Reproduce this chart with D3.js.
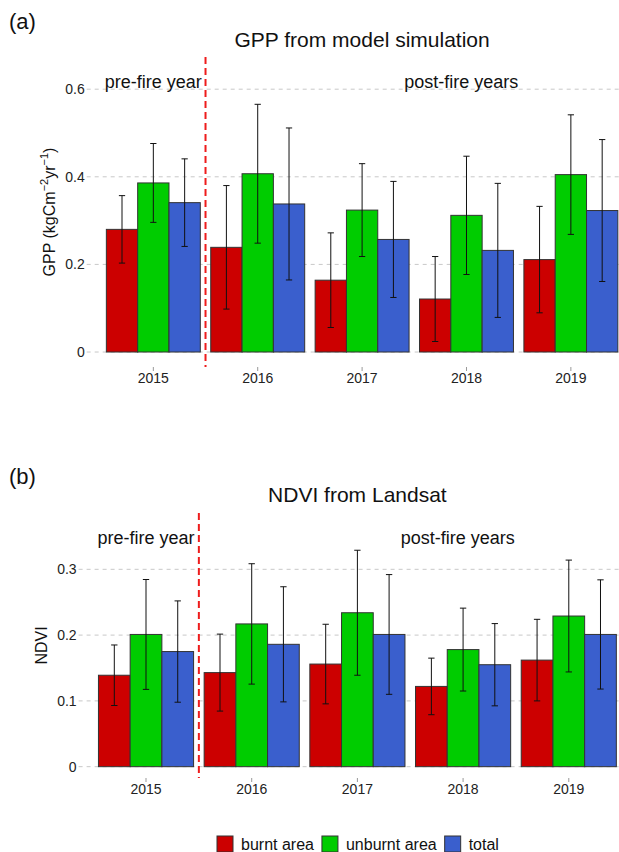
<!DOCTYPE html>
<meta charset="utf-8">
<style>
  body { margin: 0; background: #fff; }
  svg { display: block; font-family: "Liberation Sans", Arial, sans-serif; }
  .grid line { stroke: #c8c8c8; stroke-width: 1px; stroke-dasharray: 4,4; }
  .tick-label { font-size: 14px; fill: #222; }
  .bar { stroke: #333; stroke-width: 1px; }
  .err { stroke: #111; stroke-width: 1px; fill: none; }
  .fireline { stroke: #ee1c1c; stroke-width: 2px; stroke-dasharray: 7,4; }
</style>
<body>
  <script src="https://cdn.jsdelivr.net/npm/d3@7"></script>
  <script>

    var years = ["2015", "2016", "2017", "2018", "2019"];
    var seriesNames = ["burnt area", "unburnt area", "total"];
    var seriesColors = ["#cc0000", "#00cc00", "#3a5fcd"];

    // GPP (kgC m-2 yr-1), mean and sd
    var gppBurnt = [0.280, 0.239, 0.164, 0.121, 0.211];
    var gppBurntSd = [0.077, 0.141, 0.108, 0.097, 0.1215];
    var gppUnburnt = [0.386, 0.407, 0.324, 0.312, 0.405];
    var gppUnburntSd = [0.090, 0.1585, 0.106, 0.135, 0.1365];
    var gppTotal = [0.341, 0.338, 0.257, 0.232, 0.323];
    var gppTotalSd = [0.100, 0.1735, 0.1325, 0.153, 0.162];
    var gppTicks = [0, 0.2, 0.4, 0.6];
    var gppTickLabels = ["0", "0.2", "0.4", "0.6"];

    // NDVI, mean and sd
    var ndviBurnt = [0.139, 0.143, 0.156, 0.122, 0.162];
    var ndviBurntSd = [0.046, 0.0585, 0.0605, 0.043, 0.062];
    var ndviUnburnt = [0.201, 0.217, 0.234, 0.178, 0.229];
    var ndviUnburntSd = [0.0835, 0.0915, 0.095, 0.063, 0.085];
    var ndviTotal = [0.175, 0.186, 0.201, 0.155, 0.201];
    var ndviTotalSd = [0.077, 0.0875, 0.091, 0.0625, 0.083];
    var ndviTicks = [0, 0.1, 0.2, 0.3];
    var ndviTickLabels = ["0", "0.1", "0.2", "0.3"];

    var svg = d3.select("body").append("svg")
      .attr("width", 619)
      .attr("height", 852);

    function drawPanel(p) {
      var x = d3.scaleBand().domain(years)
        .range([p.left, p.right])
        .paddingInner(0.1).paddingOuter(0.15);
      var xs = d3.scaleBand().domain(seriesNames).range([0, x.bandwidth()]);
      var y = d3.scaleLinear().domain(p.yDomain).range([p.bottom, p.top]);

      var g = svg.append("g");

      // letter + title
      g.append("text").attr("x", 9).attr("y", p.letterY)
        .style("font-size", "22px").style("fill", "#111").text(p.letter);
      g.append("text").attr("x", (p.left + p.right) / 2).attr("y", p.titleY)
        .attr("text-anchor", "middle")
        .style("font-size", "21px").style("fill", "#111").text(p.title);

      // grid + y ticks
      var grid = g.append("g").attr("class", "grid");
      grid.selectAll("line").data(p.ticks).enter().append("line")
        .attr("x1", p.left - 4).attr("x2", 619)
        .attr("y1", d => y(d)).attr("y2", d => y(d));
      g.selectAll(".ylab").data(p.ticks).enter().append("text")
        .attr("class", "tick-label")
        .attr("x", p.left - 6).attr("y", d => y(d))
        .attr("dy", "0.35em").attr("text-anchor", "end")
        .text((d, i) => p.tickLabels[i]);

      // x ticks
      years.forEach(yr => {
        var cx = x(yr) + x.bandwidth() / 2;
        g.append("line").attr("x1", cx).attr("x2", cx)
          .attr("y1", p.bottom).attr("y2", p.bottom + 4)
          .style("stroke", "#999");
        g.append("text").attr("class", "tick-label")
          .attr("x", cx).attr("y", p.bottom + 16)
          .attr("text-anchor", "middle").text(yr);
      });

      // bars
      var rows = [];
      years.forEach((yr, i) => {
        p.series.forEach((s, j) => {
          rows.push({ year: yr, name: seriesNames[j], color: seriesColors[j], v: s.mean[i], sd: s.sd[i] });
        });
      });
      g.selectAll(".bar").data(rows).enter().append("rect")
        .attr("class", "bar")
        .attr("x", d => x(d.year) + xs(d.name))
        .attr("width", xs.bandwidth())
        .attr("y", d => y(d.v))
        .attr("height", d => y(0) - y(d.v))
        .style("fill", d => d.color);

      // error bars
      var capW = xs.bandwidth() * 0.1;
      var eb = g.selectAll(".eb").data(rows).enter().append("g").attr("class", "err");
      eb.append("path").attr("d", d => {
        var cx = x(d.year) + xs(d.name) + xs.bandwidth() / 2;
        var y1 = y(d.v + d.sd), y0 = y(d.v - d.sd);
        return "M" + (cx - capW) + "," + y1 + "H" + (cx + capW) +
          "M" + cx + "," + y1 + "V" + y0 +
          "M" + (cx - capW) + "," + y0 + "H" + (cx + capW);
      });

      // fire line between 2015 and 2016
      var fx = x("2015") + x.bandwidth() + x.step() * 0.05;
      g.append("line").attr("class", "fireline")
        .attr("x1", fx).attr("x2", fx).attr("y1", p.top).attr("y2", p.bottom);

      // annotations
      g.append("text").attr("x", x("2015") + x.bandwidth() / 2).attr("y", y(p.labelY))
        .attr("dy", "0.35em").attr("text-anchor", "middle")
        .style("font-size", "18px").style("fill", "#111").text("pre-fire year");
      g.append("text").attr("x", (x("2017") + x("2018")) / 2 + x.bandwidth())
        .attr("y", y(p.labelY))
        .attr("dy", "0.35em").attr("text-anchor", "middle")
        .style("font-size", "18px").style("fill", "#111").text("post-fire years");

      // y axis title
      var yt = g.append("text")
        .attr("transform", "translate(" + p.yTitleX + "," + (p.top + p.bottom) / 2 + ") rotate(-90)")
        .attr("text-anchor", "middle")
        .style("font-size", "16px").style("fill", "#111");
      p.yTitle.forEach(part => {
        var t = yt.append("tspan").text(part.t);
        if (part.sup) t.style("font-size", "11px").attr("dy", "-7");
        else if (part.after) t.attr("dy", "7");
      });
    }

    drawPanel({
      letter: "(a)", letterY: 29, title: "GPP from model simulation", titleY: 47,
      top: 57, bottom: 367, left: 90.7, right: 633.5, yDomain: [-0.0342, 0.6735],
      ticks: gppTicks, tickLabels: gppTickLabels, labelY: 0.616, yTitleX: 55,
      yTitle: [{ t: "GPP (kgCm" }, { t: "\u22122", sup: true }, { t: "yr", after: true },
        { t: "\u22121", sup: true }, { t: ")", after: true }],
      series: [{ mean: gppBurnt, sd: gppBurntSd }, { mean: gppUnburnt, sd: gppUnburntSd },
        { mean: gppTotal, sd: gppTotalSd }]
    });

    drawPanel({
      letter: "(b)", letterY: 484, title: "NDVI from Landsat", titleY: 502,
      top: 513, bottom: 778, left: 82.6, right: 632.2, yDomain: [-0.0172, 0.3856],
      ticks: ndviTicks, tickLabels: ndviTickLabels, labelY: 0.348, yTitleX: 47,
      yTitle: [{ t: "NDVI" }],
      series: [{ mean: ndviBurnt, sd: ndviBurntSd }, { mean: ndviUnburnt, sd: ndviUnburntSd },
        { mean: ndviTotal, sd: ndviTotalSd }]
    });

    // legend
    var lx = 217;
    seriesNames.forEach((name, i) => {
      svg.append("rect").attr("x", lx).attr("y", 836).attr("width", 16).attr("height", 16)
        .style("fill", seriesColors[i]).style("stroke", "#333");
      var t = svg.append("text").attr("x", lx + 24).attr("y", 850)
        .style("font-size", "16px").style("fill", "#111").text(name);
      lx += 24 + t.node().getComputedTextLength() + 8;
    });
  </script>
</body>
